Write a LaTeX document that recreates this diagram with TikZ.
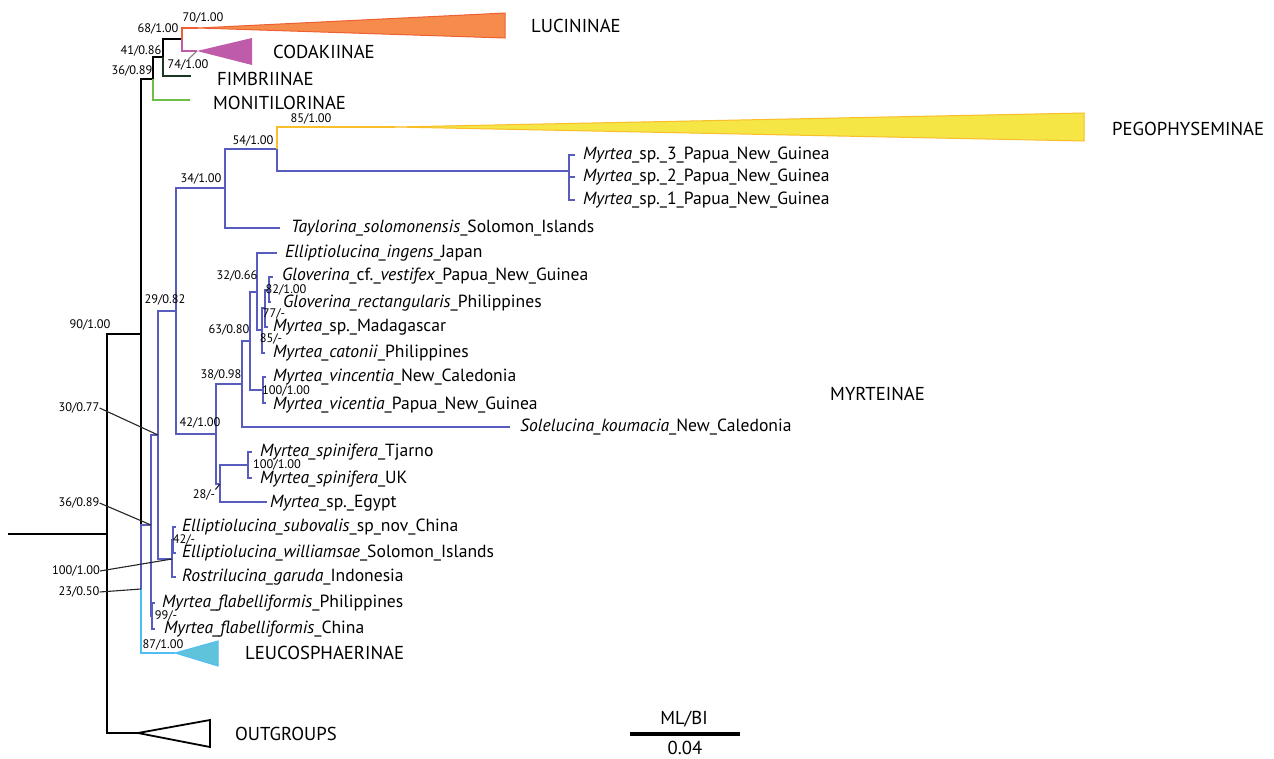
\documentclass[tikz,border=0pt]{standalone}
\usepackage{fontspec}
\setmainfont{PT Sans}
\usepackage{tikz}
\usepackage{xcolor}

\definecolor{myrblue}{RGB}{88,92,190}
\definecolor{lucfill}{RGB}{245,140,75}
\definecolor{lucedge}{RGB}{238,95,50}
\definecolor{codfill}{RGB}{190,92,170}
\definecolor{pegfill}{RGB}{245,230,70}
\definecolor{pegedge}{RGB}{250,190,40}
\definecolor{leufill}{RGB}{95,195,220}
\definecolor{leuedge}{RGB}{80,190,240}
\definecolor{monigreen}{RGB}{110,190,70}
\definecolor{fimbgreen}{RGB}{25,55,30}

\tikzset{
  blk/.style={line width=2.6pt, black},
  blu/.style={line width=2.3pt, myrblue},
  lead/.style={line width=1.1pt, black!85},
  taxon/.style={anchor=west, inner sep=0pt, font=\fontsize{17.6}{18}\selectfont},
  clade/.style={anchor=west, inner sep=0pt, font=\fontsize{18.7}{19}\selectfont},
  supp/.style={inner sep=0pt, font=\fontsize{12.4}{13}\selectfont},
}

\begin{document}
\begin{tikzpicture}[x=1pt, y=-1pt, line join=miter]
\useasboundingbox (0,0) rectangle (1274,758);

% internal nodes
\coordinate (stub) at (8,534);
\coordinate (nroot) at (107,534);
\coordinate (n90) at (141,334);
\coordinate (ntop) at (153,79);
\coordinate (n41) at (163,57);
\coordinate (n68) at (182,39);
\coordinate (n23) at (141,589);
\coordinate (n36) at (151,525);
\coordinate (n30) at (158,435);
\coordinate (n29) at (176,311);
\coordinate (n34) at (225,188);
\coordinate (n54) at (277,149);
\coordinate (npng) at (569,171);
\coordinate (n42b) at (216,434);
\coordinate (n38) at (242,384);
\coordinate (n63) at (250,341);
\coordinate (n32) at (257,292);
\coordinate (n85) at (262,330);
\coordinate (n77) at (265,308);
\coordinate (n82) at (269,290);
\coordinate (nvinc) at (263,390);
\coordinate (n28) at (220,484);
\coordinate (nspin) at (248,465);
\coordinate (n100) at (172,559);
\coordinate (n42) at (173,540);
\coordinate (nflab) at (152,616);

% tips
\coordinate (t_out) at (138,733);
\coordinate (t_luci) at (198,28);
\coordinate (t_coda) at (197,51);
\coordinate (t_fimb) at (191,76);
\coordinate (t_moni) at (190,100);
\coordinate (t_peg) at (395,127);
\coordinate (t_png3) at (575,155);
\coordinate (t_png2) at (575,177);
\coordinate (t_png1) at (575,200);
\coordinate (t_taylor) at (280,228);
\coordinate (t_ingens) at (277,253);
\coordinate (t_vestif) at (273,277);
\coordinate (t_rect) at (271,302);
\coordinate (t_madag) at (268,327);
\coordinate (t_catonii) at (265,353);
\coordinate (t_vincnc) at (266,377);
\coordinate (t_vicpng) at (266,403);
\coordinate (t_sole) at (510,427);
\coordinate (t_spint) at (252,452);
\coordinate (t_spinu) at (252,478);
\coordinate (t_egypt) at (267,502);
\coordinate (t_subov) at (176,527);
\coordinate (t_willi) at (176,553);
\coordinate (t_garuda) at (176,577);
\coordinate (t_flabp) at (155,603);
\coordinate (t_flabc) at (155,629);
\coordinate (t_leu) at (175,653);

% black backbone
\draw[blk] (stub) -- (nroot);
\draw[blk] (nroot) |- (n90);
\draw[blk] (nroot) |- (t_out);
\draw[blk] (n90) |- (ntop);
\draw[blk] (n90) |- (n23);
\draw[blk] (ntop) |- (n41);
\draw[blk] (n41) |- (n68);

% outgroups
\draw[line width=1.8pt, fill=white] (t_out) -- (210,720) -- (210,747) -- cycle;

% top subfamilies
\draw[line width=2.3pt, monigreen] (ntop) |- (t_moni);
\draw[line width=2.3pt, fimbgreen] (n41) |- (t_fimb);
\draw[line width=2.3pt, lucedge] (n68) |- (t_luci);
\draw[line width=2.3pt, codfill] (n68) |- (t_coda);
\fill[lucfill, draw=lucedge, line width=1pt] (t_luci) -- (505,13) -- (505,38) -- cycle;
\fill[codfill] (t_coda) -- (252,38) -- (252,65) -- cycle;

% leucosphaerinae
\draw[line width=2.3pt, leuedge] (n23) |- (t_leu);
\fill[leufill, draw=leuedge, line width=1pt] (t_leu) -- (218,641) -- (218,666) -- cycle;

% myrteinae
\draw[blu] (n23) |- (n36);
\draw[blu] (n36) |- (n30);
\draw[blu] (n36) |- (nflab);
\draw[blu] (nflab) |- (t_flabp);
\draw[blu] (nflab) |- (t_flabc);
\draw[blu] (n30) |- (n29);
\draw[blu] (n30) |- (n100);
\draw[blu] (n100) |- (n42);
\draw[blu] (n100) |- (t_garuda);
\draw[blu] (n42) |- (t_subov);
\draw[blu] (n42) |- (t_willi);
\draw[blu] (n29) |- (n34);
\draw[blu] (n29) |- (n42b);
\draw[blu] (n34) |- (n54);
\draw[blu] (n34) |- (t_taylor);
\draw[blu] (n54) |- (npng);
\draw[blu] (npng) |- (t_png3);
\draw[blu] (npng) |- (t_png2);
\draw[blu] (npng) |- (t_png1);
\draw[blu] (n42b) |- (n38);
\draw[blu] (n42b) |- (n28);
\draw[blu] (n38) |- (n63);
\draw[blu] (n38) |- (t_sole);
\draw[blu] (n63) |- (n32);
\draw[blu] (n63) |- (nvinc);
\draw[blu] (nvinc) |- (t_vincnc);
\draw[blu] (nvinc) |- (t_vicpng);
\draw[blu] (n32) |- (t_ingens);
\draw[blu] (n32) |- (n85);
\draw[blu] (n85) |- (n77);
\draw[blu] (n85) |- (t_catonii);
\draw[blu] (n77) |- (n82);
\draw[blu] (n77) |- (t_madag);
\draw[blu] (n82) |- (t_vestif);
\draw[blu] (n82) |- (t_rect);
\draw[blu] (n28) |- (nspin);
\draw[blu] (n28) |- (t_egypt);
\draw[blu] (nspin) |- (t_spint);
\draw[blu] (nspin) |- (t_spinu);

% pegophyseminae
\draw[line width=2.3pt, pegedge] (n54) |- (t_peg);
\fill[pegfill, draw=pegedge, line width=1pt] (t_peg) -- (1084,113) -- (1084,141) -- cycle;

% clade names
\node[clade] (c_luci) at (531,26) {LUCININAE};
\node[clade] (c_coda) at (273,52) {CODAKIINAE};
\node[clade] (c_fimb) at (217,79) {FIMBRIINAE};
\node[clade] (c_moni) at (213,103) {MONITILORINAE};
\node[clade] (c_peg) at (1112,129) {PEGOPHYSEMINAE};
\node[clade] (c_myrt) at (830,394) {MYRTEINAE};
\node[clade] (c_leu) at (245,653) {LEUCOSPHAERINAE};
\node[clade] (c_out) at (235,734) {OUTGROUPS};

% taxa
\node[taxon] (l_png3) at (583,155) {\textit{Myrtea}\_sp.\_3\_Papua\_New\_Guinea};
\node[taxon] (l_png2) at (583,177) {\textit{Myrtea}\_sp.\_2\_Papua\_New\_Guinea};
\node[taxon] (l_png1) at (583,200) {\textit{Myrtea}\_sp.\_1\_Papua\_New\_Guinea};
\node[taxon] (l_taylor) at (291,228) {\textit{Taylorina\_solomonensis}\_Solomon\_Islands};
\node[taxon] (l_ingens) at (285,253) {\textit{Elliptiolucina\_ingens}\_Japan};
\node[taxon] (l_vestif) at (282,276) {\textit{Gloverina}\_cf.\_\textit{vestifex}\_Papua\_New\_Guinea};
\node[taxon] (l_rect) at (283,303) {\textit{Gloverina\_rectangularis}\_Philippines};
\node[taxon] (l_madag) at (273,327) {\textit{Myrtea}\_sp.\_Madagascar};
\node[taxon] (l_catonii) at (273,353) {\textit{Myrtea\_catonii}\_Philippines};
\node[taxon] (l_vincnc) at (273,377) {\textit{Myrtea\_vincentia}\_New\_Caledonia};
\node[taxon] (l_vicpng) at (273,405) {\textit{Myrtea\_vicentia}\_Papua\_New\_Guinea};
\node[taxon] (l_sole) at (520,427) {\textit{Solelucina\_koumacia}\_New\_Caledonia};
\node[taxon] (l_spint) at (260,452) {\textit{Myrtea\_spinifera}\_Tjarno};
\node[taxon] (l_spinu) at (260,479) {\textit{Myrtea\_spinifera}\_UK};
\node[taxon] (l_egypt) at (270,503) {\textit{Myrtea}\_sp.\_Egypt};
\node[taxon] (l_subov) at (182,527) {\textit{Elliptiolucina\_subovalis}\_sp\_nov\_China};
\node[taxon] (l_willi) at (182,553) {\textit{Elliptiolucina\_williamsae}\_Solomon\_Islands};
\node[taxon] (l_garuda) at (182,577) {\textit{Rostrilucina\_garuda}\_Indonesia};
\node[taxon] (l_flabp) at (162,603) {\textit{Myrtea\_flabelliformis}\_Philippines};
\node[taxon] (l_flabc) at (164,629) {\textit{Myrtea\_flabelliformis}\_China};

% support values
\node[supp] (s70) at (203,18) {70/1.00};
\node[supp] (s68) at (158,29) {68/1.00};
\node[supp] (s41) at (141,51) {41/0.86};
\node[supp] (s36a) at (132,71) {36/0.89};
\node[supp] (s74) at (188,65) {74/1.00};
\node[supp] (s85a) at (311,119) {85/1.00};
\node[supp] (s54) at (253,141) {54/1.00};
\node[supp] (s34) at (201,179) {34/1.00};
\node[supp] (s32) at (237,276) {32/0.66};
\node[supp] (s82) at (286,289.5) {82/1.00};
\node[supp] (s29) at (165,300) {29/0.82};
\node[supp] (s77) at (274,314) {77/-};
\node[supp] (s90) at (90,325) {90/1.00};
\node[supp] (s63) at (229,330) {63/0.80};
\node[supp] (s85b) at (271,339) {85/-};
\node[supp] (s38) at (221,375) {38/0.98};
\node[supp] (s100c) at (286,391) {100/1.00};
\node[supp] (s30) at (79,408) {30/0.77};
\node[supp] (s42b) at (200,423) {42/1.00};
\node[supp] (s100b) at (277,465) {100/1.00};
\node[supp] (s28) at (204,495) {28/-};
\node[supp] (s36b) at (79,503) {36/0.89};
\node[supp] (s42) at (184,540) {42/-};
\node[supp] (s100a) at (76,571) {100/1.00};
\node[supp] (s23) at (79,592) {23/0.50};
\node[supp] (s99) at (166,616) {99/-};
\node[supp] (s87) at (163,645) {87/1.00};

% leader lines
\draw[lead, black!50] (s74.north) -- (t_coda);
\draw[lead] (s28.north east) -- (n28);
\draw[lead] (s30.east) -- (n30);
\draw[lead] (s36b.east) -- (n36);
\draw[lead] (s100a.east) -- (n100);
\draw[lead] (s23.east) -- (n23);

% scale bar
\coordinate (sb_l) at (630,734);
\coordinate (sb_r) at (740,734);
\draw[line width=3.2pt] (sb_l) -- (sb_r);
\node[clade, anchor=center] (sb_top) at (684,719) {ML/BI};
\node[clade, anchor=center] (sb_val) at (685,748) {0.04};

\end{tikzpicture}
\end{document}
